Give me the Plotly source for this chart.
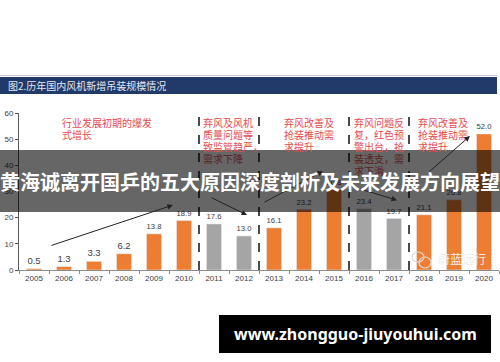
import plotly.graph_objects as go

# ---------------- data ----------------
years = ["2005", "2006", "2007", "2008", "2009", "2010", "2011", "2012",
         "2013", "2014", "2015", "2016", "2017", "2018", "2019", "2020"]
installs = [0.5, 1.3, 3.3, 6.2, 13.8, 18.9, 17.6, 13.0,
            16.1, 23.2, 30.8, 23.4, 19.7, 21.1, 26.8, 52.0]
phase = ["up", "up", "up", "up", "up", "up", "down", "down",
         "up", "up", "up", "down", "down", "up", "up", "up"]
y_ticks = [0, 10, 20, 30, 40, 50, 60]

ORANGE = "#ED7D31"
GRAY = "#A5A5A5"
RED = "#E64A50"
RED_DARK = "#5c1d1f"

W, H = 500, 362
L, R, T, B = 19, 499, 113, 270


def px(x):
    return (x - L) / (R - L)


def py(y):
    return (B - y) / (B - T)


xs = list(range(len(years)))
colors = [ORANGE if p == "up" else GRAY for p in phase]

fig = go.Figure()
fig.add_trace(go.Bar(
    x=xs, y=installs, marker_color=colors, width=0.5,
    text=[f"{v:.1f}" for v in installs], textposition="outside",
    textfont=dict(size=9.5, color="#404040", family="Liberation Sans"),
    cliponaxis=False, showlegend=False,
))

shapes = []
annotations = []

# title band
shapes.append(dict(type="line", xref="paper", yref="paper", x0=px(0), x1=px(497),
                   y0=py(75.5), y1=py(75.5), line=dict(color="#c9ccd4", width=1)))
shapes.append(dict(type="rect", xref="paper", yref="paper", x0=px(0), x1=px(497),
                   y0=py(94), y1=py(77), fillcolor="#213A6A", line=dict(width=0)))
annotations.append(dict(xref="paper", yref="paper", x=px(6), y=py(85.5),
                        xanchor="left", yanchor="middle", showarrow=False,
                        text="图2.历年国内风机新增吊装规模情况",
                        font=dict(size=10, color="#e3e7ef", family="Noto Sans CJK SC")))

# dashed phase separators
for xv in [5.5, 7.5, 10.5, 12.5]:
    shapes.append(dict(type="line", xref="x", yref="paper", x0=xv, x1=xv,
                       y0=py(270), y1=py(111), layer="below",
                       line=dict(color="#111111", width=1.5, dash="dash")))

# red phase notes (x pixel, lines)
notes = [
    (60, ["行业发展初期的爆发", "式增长"]),
    (201, ["弃风及风机", "质量问题等", "致监管趋严，", "需求下降"]),
    (282, ["弃风改善及", "抢装推动需", "求提升"]),
    (352, ["弃风问题反", "复，红色预", "警出台，抢", "装透支，需", "求下滑"]),
    (416, ["弃风改善及", "抢装推动需", "求提升"]),
]
for x0, lines in notes:
    for i, line in enumerate(lines):
        yc = 122 + i * 12
        col = RED_DARK if 150 <= yc <= 212 else RED
        annotations.append(dict(xref="paper", yref="paper", x=px(x0), y=py(yc),
                                xanchor="left", yanchor="middle", showarrow=False,
                                text=line,
                                font=dict(size=10, color=col, family="Noto Sans CJK SC")))

# trend arrows (data coords)
arrows = [
    ((0.53, 9.2), (4.63, 24.8)),
    ((5.87, 27.9), (7.1, 21.0)),
    ((7.63, 25.6), (9.63, 37.8)),
    ((10.77, 31.3), (12.1, 26.7)),
    ((13.13, 37.1), (14.53, 51.2)),
]
for (sx, sy), (ex, ey) in arrows:
    annotations.append(dict(x=ex, y=ey, ax=sx, ay=sy, xref="x", yref="y",
                            axref="x", ayref="y", text="", showarrow=True,
                            arrowhead=2, arrowsize=1.1, arrowwidth=1,
                            arrowcolor="#222222"))

# watermark
annotations.append(dict(xref="paper", yref="paper", x=px(436), y=py(258),
                        xanchor="left", yanchor="middle", showarrow=False,
                        text="蔚蓝远行",
                        font=dict(size=12, color="#eeeeee", family="Noto Sans CJK SC")))
shapes.append(dict(type="circle", xref="paper", yref="paper", x0=px(412), x1=px(424),
                   y0=py(262), y1=py(252), line=dict(color="#dddddd", width=1.2)))
shapes.append(dict(type="circle", xref="paper", yref="paper", x0=px(419), x1=px(431),
                   y0=py(268), y1=py(257), line=dict(color="#dddddd", width=1.2)))

# dark overlay banner
shapes.append(dict(type="rect", xref="paper", yref="paper", x0=px(0), x1=px(500),
                   y0=py(212), y1=py(150), fillcolor="rgba(0,0,0,0.6)",
                   line=dict(width=0), layer="above"))
annotations.append(dict(xref="paper", yref="paper", x=px(250), y=py(181),
                        xanchor="center", yanchor="middle", showarrow=False,
                        text="<b>黄海诚离开国乒的五大原因深度剖析及未来发展方向展望</b>",
                        font=dict(size=20, color="#ffffff", family="Noto Sans CJK SC")))

# bottom url box
shapes.append(dict(type="rect", xref="paper", yref="paper", x0=px(219), x1=px(491),
                   y0=py(353), y1=py(315), fillcolor="#000000", line=dict(width=0)))
annotations.append(dict(xref="paper", yref="paper", x=px(355), y=py(334),
                        xanchor="center", yanchor="middle", showarrow=False,
                        text="<b>www.zhongguo-jiuyouhui.com</b>",
                        font=dict(size=16, color="#ffffff", family="Noto Sans")))

fig.update_layout(
    width=W, height=H,
    margin=dict(l=L, r=W - R, t=T, b=H - B, pad=0),
    paper_bgcolor="white", plot_bgcolor="white",
    bargap=0.5, showlegend=False,
    shapes=shapes, annotations=annotations,
    xaxis=dict(range=[-0.5, 15.5], tickmode="array", tickvals=xs, ticktext=years,
               showgrid=False, zeroline=False, showline=True, linecolor="#8c8c8c",
               linewidth=1, ticks="", tickfont=dict(size=8, color="#404040",
                                                    family="Liberation Sans"),
               minor=dict(tick0=0.5, dtick=1, ticks="outside", ticklen=3,
                          tickcolor="#8c8c8c"),
               fixedrange=True),
    yaxis=dict(range=[0, 60], tickmode="array", tickvals=y_ticks,
               showgrid=False, zeroline=False, showline=True, linecolor="#595959",
               linewidth=1, ticks="outside", ticklen=3, tickcolor="#595959",
               tickfont=dict(size=8, color="#404040", family="Liberation Sans"),
               fixedrange=True),
)

fig.write_html("out.html")
